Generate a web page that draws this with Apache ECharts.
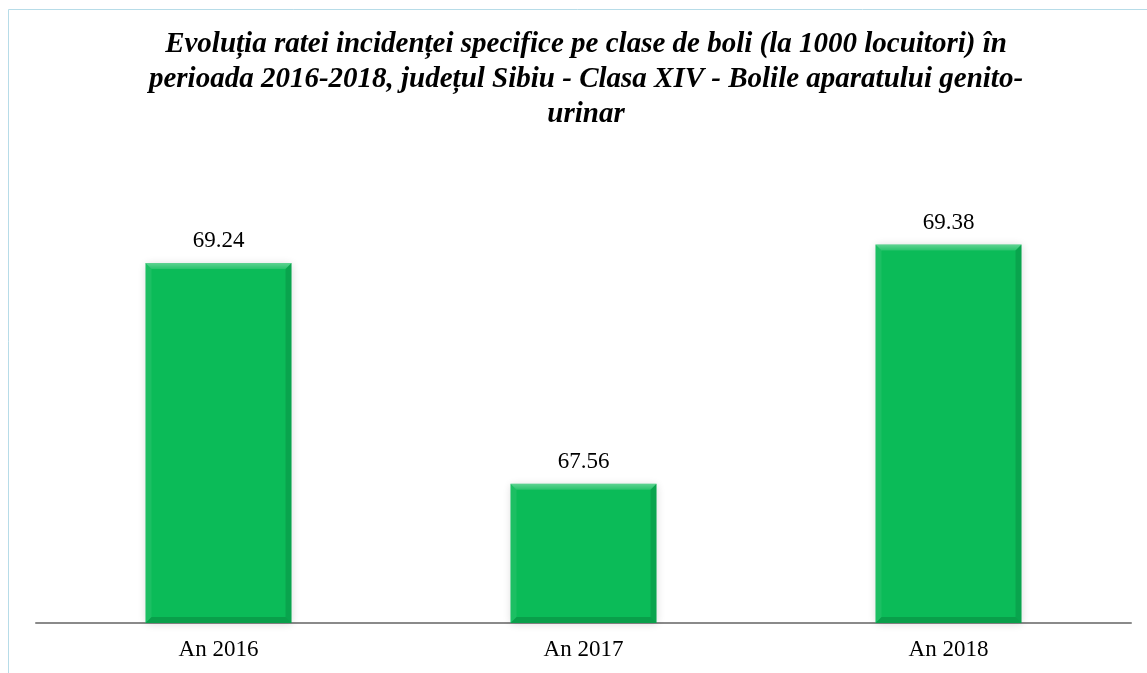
<!DOCTYPE html>
<html>
<head>
<meta charset="utf-8">
<script src="https://cdn.jsdelivr.net/npm/echarts@6/dist/echarts.min.js"></script>
<style>
  html, body { margin: 0; padding: 0; background: #ffffff; }
  #chart { width: 1147px; height: 673px; }
</style>
</head>
<body>
<div id="chart"></div>
<script>
// Incidence rate per 1000 inhabitants, class XIV (genito-urinary diseases), Sibiu county
const categories = ['An 2016', 'An 2017', 'An 2018'];
const rates = [69.24, 67.56, 69.38];
const titleLines = [
  'Evoluția ratei incidenței specifice pe clase de boli (la 1000 locuitori) în',
  'perioada 2016-2018, județul Sibiu - Clasa XIV - Bolile aparatului genito-',
  'urinar'
];

const Y_MIN = 66.5;
const Y_MAX = 70;
const BAR_RATIO = 0.4;
const SERIF = '"Liberation Serif", "Times New Roman", serif';

const chart = echarts.init(document.getElementById('chart'));

// bevelled edges painted over each bar
function renderBevel(params, api) {
  const i = api.value(0);
  const v = api.value(1);
  const top = api.coord([i, v]);
  const base = api.coord([i, Y_MIN]);
  const w = api.size([1, 0])[0] * BAR_RATIO;
  const x0 = top[0] - w / 2, x1 = top[0] + w / 2;
  const y0 = top[1], y1 = base[1];
  const b = 6;
  return {
    type: 'group',
    children: [
      { type: 'polygon', shape: { points: [[x0, y0], [x1, y0], [x1 - b, y0 + b], [x0 + b, y0 + b]] },
        style: { fill: {
          type: 'linear', x: 0, y: 0, x2: 0, y2: 1,
          colorStops: [{ offset: 0, color: 'rgba(255,255,255,0.35)' }, { offset: 1, color: 'rgba(255,255,255,0.12)' }]
        } } },
      { type: 'polygon', shape: { points: [[x0, y0], [x0 + b, y0 + b], [x0 + b, y1 - b], [x0, y1]] },
        style: { fill: 'rgba(255,255,255,0.07)' } },
      { type: 'polygon', shape: { points: [[x1, y0], [x1, y1], [x1 - b, y1 - b], [x1 - b, y0 + b]] },
        style: { fill: 'rgba(0,0,0,0.12)' } },
      { type: 'polygon', shape: { points: [[x0, y1], [x1, y1], [x1 - b, y1 - b], [x0 + b, y1 - b]] },
        style: { fill: 'rgba(0,0,0,0.15)' } }
    ]
  };
}

chart.setOption({
  backgroundColor: '#ffffff',
  animation: false,
  graphic: [
    { type: 'line', shape: { x1: 8.5, y1: 9.5, x2: 1147, y2: 9.5 }, style: { stroke: '#b7dce8', lineWidth: 1 } },
    { type: 'line', shape: { x1: 8.5, y1: 9.5, x2: 8.5, y2: 673 }, style: { stroke: '#b7dce8', lineWidth: 1 } }
  ],
  title: {
    text: titleLines.join('\n'),
    left: 581,
    top: 22,
    textAlign: 'center',
    textStyle: {
      fontFamily: SERIF,
      fontStyle: 'italic',
      fontWeight: 'bold',
      fontSize: 29,
      lineHeight: 35,
      color: '#000000'
    }
  },
  grid: { left: 36, right: 16, top: 163, bottom: 50 },
  xAxis: {
    type: 'category',
    data: categories,
    axisLine: { lineStyle: { color: '#8a8a8a', width: 2 } },
    axisTick: { show: false },
    axisLabel: {
      margin: 15,
      color: '#000000',
      fontFamily: SERIF,
      fontSize: 23
    }
  },
  yAxis: {
    type: 'value',
    min: Y_MIN,
    max: Y_MAX,
    show: false,
    splitLine: { show: false }
  },
  series: [
    {
      type: 'bar',
      data: rates,
      barWidth: (BAR_RATIO * 100) + '%',
      itemStyle: {
        color: '#0bbb58',
        shadowColor: 'rgba(0,0,0,0.14)',
        shadowBlur: 8,
        shadowOffsetX: 0,
        shadowOffsetY: 1
      },
      label: {
        show: true,
        position: 'top',
        distance: 10,
        color: '#000000',
        fontFamily: SERIF,
        fontSize: 23,
        formatter: p => p.value.toFixed(2)
      }
    },
    {
      type: 'custom',
      renderItem: renderBevel,
      data: rates.map((v, i) => [i, v]),
      encode: { x: 0, y: 1 },
      silent: true,
      z: 3
    }
  ]
});
</script>
</body>
</html>
